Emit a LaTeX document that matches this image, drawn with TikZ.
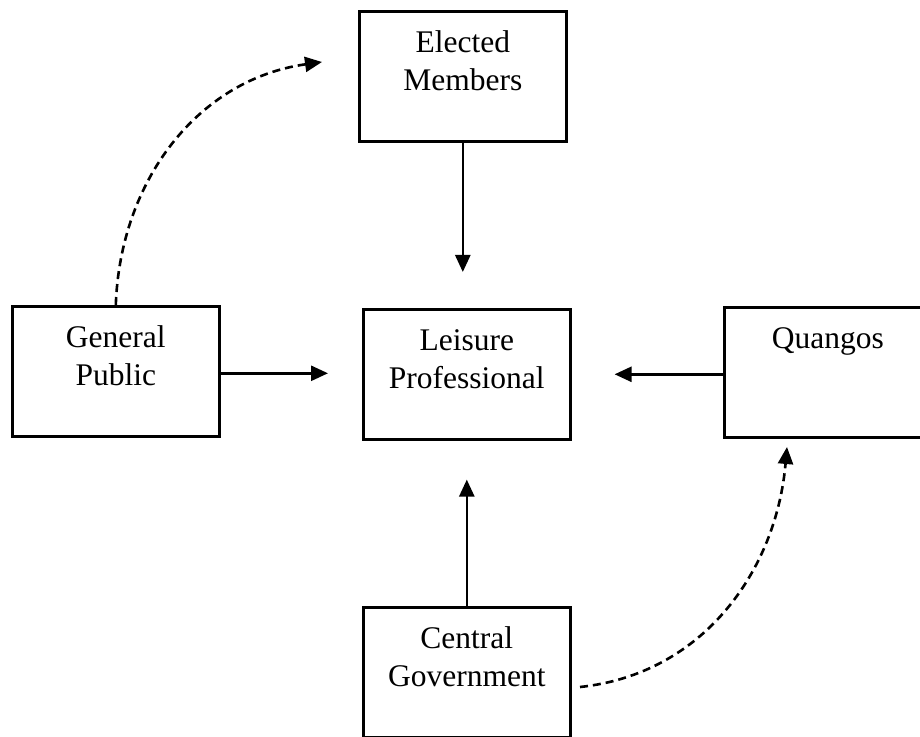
\documentclass[tikz,border=0pt]{standalone}
\usepackage{fontspec}
\setmainfont{Liberation Serif}
\usetikzlibrary{arrows.meta}
\begin{document}
\begin{tikzpicture}[x=1pt,y=1pt,
    box/.style={draw, line width=2.6pt, inner sep=0pt, anchor=north west, align=center,
        minimum width=207pt, text height=79pt, text depth=51pt,
        font=\fontsize{31.5pt}{38pt}\selectfont},
    oneline/.style={text height=41pt, text depth=89pt},
    arr/.style={line width=2.6pt, -{Triangle[length=17pt,width=15pt]}},
    dasharr/.style={arr, dash pattern=on 8pt off 5pt}]
    \useasboundingbox (0,0) rectangle (920,736);
    % Boxes
    \node[box] (em) at (358,726) {Elected\\Members};
    \node[box] (gp) at (11,431) {General\\Public};
    \node[box] (lp) at (362,428) {Leisure\\Professional};
    \node[box, oneline] (qg) at (723,430) {Quangos};
    \node[box] (cg) at (362,130) {Central\\Government};
    % Free ends of the dashed arrows
    \coordinate (emin) at (322,674);
    \coordinate (cgout) at (580,49);
    \coordinate (qgin) at (787,289);
    % Arrows
    \draw[arr, shorten >=36pt] (em.south) -- (em.south |- lp.north);
    \draw[arr, shorten >=34pt] ([yshift=-2pt]gp.east) -- ([yshift=-2pt]gp.east -| lp.west);
    \draw[arr, shorten >=43pt] ([yshift=-2pt]qg.west) -- ([yshift=-2pt]qg.west -| lp.east);
    \draw[arr, shorten >=39pt] (cg.north) -- (cg.north |- lp.south);
    \draw[dasharr] (gp.north) to[out=88,in=188] (emin);
    \draw[dasharr] (cgout) to[out=6,in=-95] (qgin);
\end{tikzpicture}
\end{document}
